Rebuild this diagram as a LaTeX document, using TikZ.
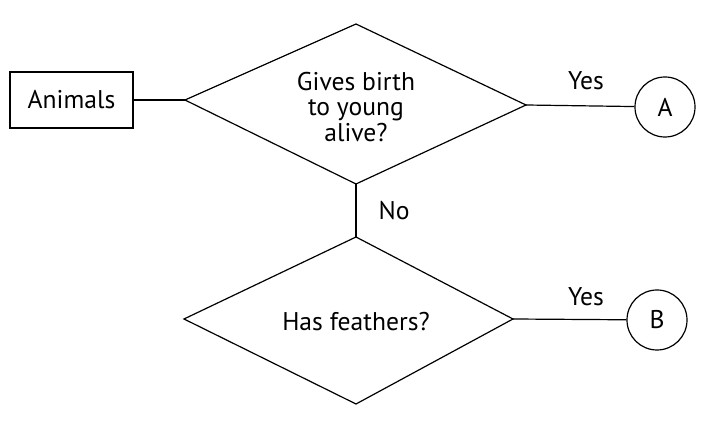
\documentclass[tikz,border=0pt]{standalone}
\usepackage{fontspec}
\setmainfont{PT Sans}

\begin{document}
\begin{tikzpicture}[x=0.5pt,y=0.5pt,yscale=-1,xscale=1,line width=0.6pt,
  every node/.style={font=\fontsize{12.8}{12.8}\selectfont},
  box/.style={draw,minimum width=61.5pt,minimum height=28pt,inner sep=0pt},
  endpt/.style={draw,circle,minimum size=30pt,inner sep=0pt}]
\useasboundingbox (0,0) rectangle (719,421);

%Start box
\node [box] (animals) at (71.5,100) {Animals};

%Decision 1
\coordinate (q1l) at (185,100);
\coordinate (q1t) at (356,24);
\coordinate (q1r) at (526,105);
\coordinate (q1b) at (356,184);
\draw (q1l) -- (q1t) -- (q1r) -- (q1b) -- cycle;
\node [align=center] (q1) at (356,107) {Gives birth\\to young\\alive?};

%Decision 2
\coordinate (q2l) at (184,319);
\coordinate (q2t) at (356,237);
\coordinate (q2r) at (513,319);
\coordinate (q2b) at (356,404);
\draw (q2l) -- (q2t) -- (q2r) -- (q2b) -- cycle;
\node (q2) at (356,322) {Has feathers?};

%End points
\node [endpt] (A) at (665,107) {A};
\node [endpt] (B) at (657,320) {B};

%Straight Lines
\draw (animals) -- (q1l);
\draw (q1r) -- (A);
\draw (q1b) -- (q2t);
\draw (q2r) -- (B);

% Text Node
\node (yes1) at (586,81) {Yes};
\node (yes2) at (586,297) {Yes};
\node (no) at (394,211) {No};

\end{tikzpicture}
\end{document}
